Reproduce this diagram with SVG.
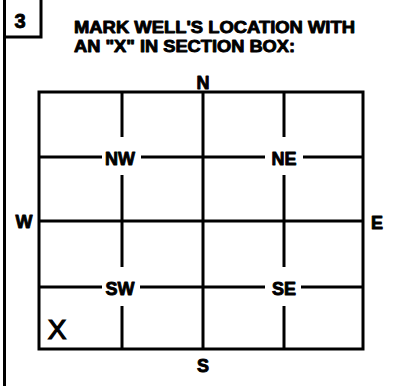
<svg xmlns="http://www.w3.org/2000/svg" width="396" height="387" viewBox="0 0 396 387">
<style>
.t{font-family:"Liberation Sans",Arial,sans-serif;font-weight:bold;fill:#000;stroke:#000;stroke-width:0.9;stroke-linejoin:round}
.l{stroke:#000;stroke-width:3;fill:none;stroke-linecap:butt}
.m{font-family:"Liberation Sans",Arial,sans-serif;font-weight:normal;fill:#000;stroke:#000;stroke-width:1.2}
</style>
<rect width="396" height="387" fill="#fff"/>
<g id="frame">
<path class="l" d="M4.5 0 V386"/>
<path class="l" d="M4.5 37 H41 V0"/>
<text class="t" x="20" y="28" font-size="20" text-anchor="middle">3</text>
</g>
<g id="title">
<text class="t" x="74" y="33" font-size="17" textLength="281" lengthAdjust="spacingAndGlyphs">MARK WELL'S LOCATION WITH</text>
<text class="t" x="74" y="52" font-size="17" textLength="221" lengthAdjust="spacingAndGlyphs">AN "X" IN SECTION BOX:</text>
</g>
<g id="grid">
<rect class="l" x="39" y="92" width="324" height="257"/>
<path class="l" d="M203 92 V349 M39 221 H363"/>
<path class="l" d="M122 92 V137 M122 175 V267 M122 306 V349"/>
<path class="l" d="M284 92 V137 M284 175 V267 M284 306 V349"/>
<path class="l" d="M39 157 H102 M141 157 H265 M303 157 H363"/>
<path class="l" d="M39 287 H102 M140 287 H265 M301 287 H363"/>
</g>
<g id="labels">
<text class="t" x="203" y="89" font-size="18" text-anchor="middle">N</text>
<text class="t" x="203" y="372" font-size="18" text-anchor="middle">S</text>
<text class="t" x="24" y="228" font-size="18" text-anchor="middle">W</text>
<text class="t" x="377" y="229" font-size="18" text-anchor="middle">E</text>
<text class="t" x="120" y="165" font-size="18" text-anchor="middle">NW</text>
<text class="t" x="284" y="165" font-size="18" text-anchor="middle">NE</text>
<text class="t" x="120" y="295" font-size="18" text-anchor="middle">SW</text>
<text class="t" x="284" y="295" font-size="18" text-anchor="middle">SE</text>
</g>
<g id="mark">
<text class="m" x="57" y="339" font-size="28" text-anchor="middle">X</text>
</g>
</svg>
